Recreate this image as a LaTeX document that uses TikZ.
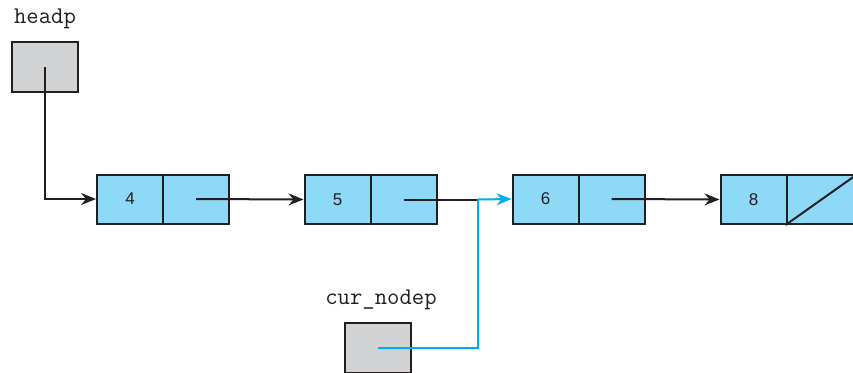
\documentclass[tikz,border=0pt]{standalone}
\usepackage{fontspec}
\setmainfont{Liberation Sans}
\usetikzlibrary{arrows.meta}
\definecolor{cellblue}{HTML}{8ED8F8}
\definecolor{boxgray}{HTML}{D1D3D4}
\definecolor{linkblue}{HTML}{00AEEF}
\definecolor{inkblack}{HTML}{231F20}
\tikzset{
    cell/.style={draw=inkblack,line width=2pt,fill=cellblue,minimum width=66pt,minimum height=49pt,inner sep=0pt,font=\fontsize{17}{17}\selectfont,text=inkblack},
    ptrbox/.style={draw=inkblack,line width=2pt,fill=boxgray,minimum width=66pt,minimum height=50pt,inner sep=0pt},
    varname/.style={font=\ttfamily\fontsize{24}{24}\selectfont,text=inkblack,inner sep=0pt},
    link/.style={draw=inkblack,line width=2pt,-{Stealth[length=15pt,width=12pt,inset=5pt]}},
    bluelink/.style={draw=linkblue,line width=2pt,-{Stealth[length=15pt,width=12pt,inset=5pt]}}
}
\begin{document}
\begin{tikzpicture}[x=1pt,y=-1pt]
        \useasboundingbox(0,0)rectangle(853,372);
        \clip(0,0)rectangle(853,372);
        % puntatori
        \node[varname](headlbl)at(45,19){headp};
        \node[ptrbox](hp)at(45,67){};
        \node[varname](curlbl)at(381,300){cur\_nodep};
        \node[ptrbox](cp)at(378,348){};
        % nodi della lista
        \node[cell](n4)at(130,199){4};
        \node[cell](n4p)at(196,199){};
        \node[cell](n5)at(337.5,199.5){5};
        \node[cell](n5p)at(403.5,199.5){};
        \node[cell](n6)at(545.5,199){6};
        \node[cell](n6p)at(611.5,199){};
        \node[cell](n8)at(753.5,199.5){8};
        \node[cell,minimum width=70pt](n8p)at(821.5,199.5){};
        \draw[inkblack,line width=2pt](n8p.south west)--(n8p.north east);
        % collegamenti
        \coordinate(j)at(478,199.5);
        \draw[link](hp.center)|-(n4.west);
        \draw[link](n4p.center)--(n5.west);
        \draw[inkblack,line width=2pt](n5p.center)--(j);
        \draw[bluelink](cp.center)-|(j)--(n6.west);
        \draw[link](n6p.center)--(n8.west);
    \end{tikzpicture}
\end{document}
